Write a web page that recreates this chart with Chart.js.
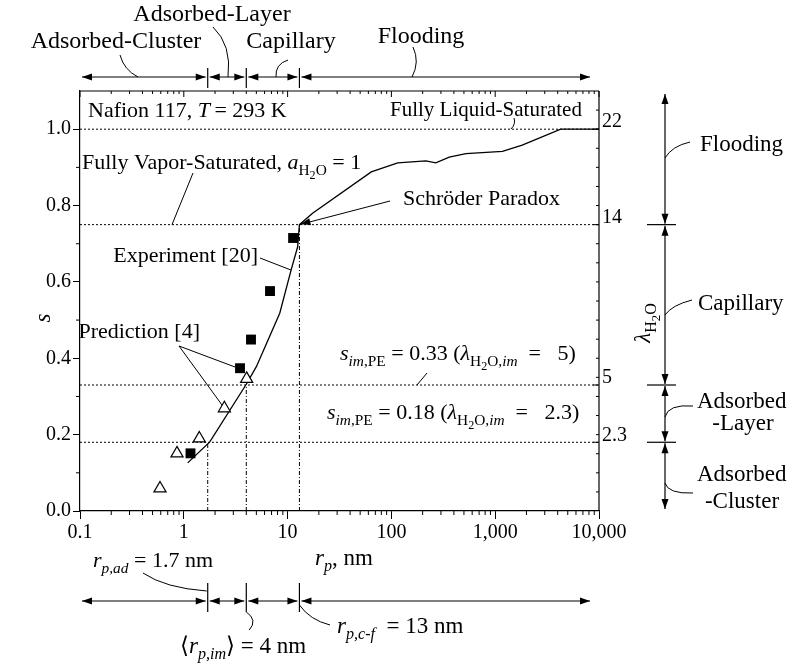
<!DOCTYPE html>
<html>
<head>
<meta charset="utf-8">
<script src="https://cdn.jsdelivr.net/npm/chart.js@4/dist/chart.umd.min.js"></script>
<style>
  html, body { margin: 0; padding: 0; background: #fff; }
  #wrap { width: 794px; height: 665px; }
</style>
</head>
<body>
<div id="wrap"><canvas id="chart" width="794" height="665"></canvas></div>
<script>
// pore radius (nm) vs. saturation s, Nafion 117 at 293 K
const rCurve = [1.09, 1.78, 4.0, 5.0, 8.4, 10.8, 12.5, 13, 17.4, 64, 115, 215, 268, 361, 523, 1175, 1820, 4280, 10000];
const sCurve = [0.126, 0.181, 0.332, 0.378, 0.518, 0.631, 0.692, 0.75, 0.78, 0.888, 0.912, 0.917, 0.912, 0.927, 0.936, 0.942, 0.958, 1.0, 1.0];

// experiment [20]
const rExp = [1.16, 3.48, 4.44, 6.77, 11.3];
const sExp = [0.151, 0.374, 0.449, 0.576, 0.715];

// prediction [4]
const rPred = [0.59, 0.86, 1.41, 2.46, 4.03];
const sPred = [0.059, 0.151, 0.19, 0.269, 0.346];

// horizontal reference levels and the matching lambda values
const sLevels = [1.0, 0.75, 0.33, 0.18];
const lambdaLabels = ['22', '14', '5', '2.3'];

// regime boundaries r_p,ad, <r_p,im>, r_p,c-f (nm) and where their drop lines stop
const rBounds = [1.7, 4, 13];
const sBoundTop = [0.18, 0.33, 0.75];

const decades = [0.1, 1, 10, 100, 1000, 10000];
const decadeLabels = ['0.1', '1', '10', '100', '1,000', '10,000'];
const sTicks = [0, 0.2, 0.4, 0.6, 0.8, 1.0];

const FONT = '"Liberation Serif", "Times New Roman", "DejaVu Serif", serif';
const TOP = 24, IN = 22, SIDE = 23;

function pts(xs, ys) {
    return xs.map((v, i) => ({ x: v, y: ys[i] }));
}

// text with italic parts and sub / sub-sub scripts: [text, flags]
function drawRich(ctx, segs, x, y, size, align) {
    const parts = segs.map(s => {
        const f = s[1] || '';
        const lvl = f.includes('2') ? 2 : (f.includes('1') ? 1 : 0);
        const sz = size * [1, 0.7, 0.55][lvl];
        const font = (f.includes('i') ? 'italic ' : '') + sz.toFixed(1) + 'px ' + FONT;
        ctx.font = font;
        return { t: s[0], font, w: ctx.measureText(s[0]).width, dy: [0, 0.28, 0.45][lvl] * size };
    });
    const total = parts.reduce((a, p) => a + p.w, 0);
    let cx = align === 'center' ? x - total / 2 : (align === 'right' ? x - total : x);
    const base = y + 0.33 * size;
    ctx.textBaseline = 'alphabetic';
    ctx.textAlign = 'left';
    parts.forEach(p => {
        ctx.font = p.font;
        ctx.fillText(p.t, cx, base + p.dy);
        cx += p.w;
    });
}

function line(ctx, x1, y1, x2, y2) {
    ctx.beginPath(); ctx.moveTo(x1, y1); ctx.lineTo(x2, y2); ctx.stroke();
}

function curve(ctx, x1, y1, cx, cy, x2, y2) {
    ctx.beginPath(); ctx.moveTo(x1, y1); ctx.quadraticCurveTo(cx, cy, x2, y2); ctx.stroke();
}

function head(ctx, x, y, ang) {
    const L = 10, W = 3.5;
    const c = Math.cos(ang), s = Math.sin(ang);
    ctx.beginPath();
    ctx.moveTo(x, y);
    ctx.lineTo(x - L * c + W * s, y - L * s - W * c);
    ctx.lineTo(x - L * c - W * s, y - L * s + W * c);
    ctx.closePath();
    ctx.fill();
}

function dblArrow(ctx, x1, y1, x2, y2) {
    line(ctx, x1, y1, x2, y2);
    const ang = Math.atan2(y2 - y1, x2 - x1);
    head(ctx, x2, y2, ang);
    head(ctx, x1, y1, ang + Math.PI);
}

// frame, minor ticks, regime arrows and all the labels
const annotations = {
    id: 'annotations',
    afterDraw(chart) {
        const { ctx, chartArea: a, scales } = chart;
        const px = v => scales.x.getPixelForValue(v);
        const py = v => scales.y.getPixelForValue(v);
        ctx.save();
        ctx.strokeStyle = '#000';
        ctx.fillStyle = '#000';
        ctx.lineWidth = 1.2;

        // top and right frame
        line(ctx, a.left, a.top, a.right, a.top);
        line(ctx, a.right, a.top, a.right, a.bottom);

        // log minor ticks (bottom outward, top inward)
        ctx.lineWidth = 1;
        decades.slice(0, -1).forEach(d => {
            for (let k = 2; k < 10; k++) {
                const xp = px(d * k);
                line(ctx, xp, a.bottom, xp, a.bottom + 4);
                line(ctx, xp, a.top, xp, a.top + 3);
            }
        });
        decades.forEach(d => line(ctx, px(d), a.top, px(d), a.top + 6));
        [0.1, 0.3, 0.5, 0.7, 0.9].forEach(v => line(ctx, a.left - 4, py(v), a.left, py(v)));
        for (let v = 0.05; v < 1.1; v += 0.05) {
            line(ctx, a.right - 3, py(v), a.right, py(v));
        }
        sLevels.forEach(v => line(ctx, a.right - 6, py(v), a.right, py(v)));

        // regime arrows above and below the plot
        const bx = rBounds.map(px);
        [[77, 68, 88], [601, 583, 612]].forEach(([yy, b0, b1]) => {
            ctx.lineWidth = 1.2;
            bx.forEach(v => line(ctx, v, b0, v, b1));
            dblArrow(ctx, a.left + 2, yy, bx[0] - 2, yy);
            dblArrow(ctx, bx[0] + 2, yy, bx[1] - 2, yy);
            dblArrow(ctx, bx[1] + 2, yy, bx[2] - 2, yy);
            dblArrow(ctx, bx[2] + 2, yy, 590, yy);
        });

        // lambda regime arrows on the right
        const xr = 665;
        const ys = [a.top + 2, py(sLevels[1]), py(sLevels[2]), py(sLevels[3]), a.bottom - 1];
        for (let i = 0; i < ys.length - 1; i++) {
            dblArrow(ctx, xr, ys[i] + 1, xr, ys[i + 1] - 1);
        }
        ys.slice(1, -1).forEach(v => line(ctx, 647, v, 676, v));

        // leader lines
        ctx.lineWidth = 1;
        curve(ctx, 120, 55, 124, 70, 138, 77);
        curve(ctx, 213, 27, 232, 45, 228, 77);
        curve(ctx, 288, 60, 275, 64, 276, 77);
        curve(ctx, 413, 47, 420, 62, 412, 77);
        curve(ctx, 514, 118, 516, 124, 511, 129);
        line(ctx, 193, 173, 172, py(sLevels[1]));
        line(ctx, 260, 258, px(10.8), py(0.631));
        line(ctx, 179, 346, 235, 367);
        line(ctx, 179, 346, 222, 405);
        line(ctx, 417, py(sLevels[2]), 427, 373);
        const sx = px(13), sy = py(sLevels[1]);
        line(ctx, 390, 201, sx, sy);
        head(ctx, sx + 1, sy - 0.5, Math.atan2(sy - 201, sx - 390));
        curve(ctx, 690, 142, 672, 146, xr, 158);
        curve(ctx, 692, 300, 672, 305, xr, 315);
        curve(ctx, 693, 406, 668, 404, xr, 417);
        curve(ctx, 693, 493, 668, 494, xr, 483);
        curve(ctx, 143, 573, 165, 588, bx[0] - 1, 591);
        curve(ctx, bx[1], 612, 258, 620, bx[1] + 3, 630);
        curve(ctx, bx[2], 605, 310, 620, 330, 625);

        // labels above the plot
        drawRich(ctx, [['Adsorbed-Cluster']], 116, 40, TOP, 'center');
        drawRich(ctx, [['Adsorbed-Layer']], 212, 13, TOP, 'center');
        drawRich(ctx, [['Capillary']], 291, 40, TOP, 'center');
        drawRich(ctx, [['Flooding']], 421, 35, TOP, 'center');

        // labels inside the plot
        drawRich(ctx, [['Nafion 117, '], ['T', 'i'], ['\u2009= 293 K']], 88, 110, IN, 'left');
        drawRich(ctx, [['Fully Liquid-Saturated']], 390, 109, 21, 'left');
        drawRich(ctx, [['Fully Vapor-Saturated, '], ['a', 'i'], ['H', '1'], ['2', '2'], ['O', '1'], [' = 1']], 82, 162, IN, 'left');
        drawRich(ctx, [['Schröder Paradox']], 403, 198, IN, 'left');
        drawRich(ctx, [['Experiment [20]']], 258, 255, IN, 'right');
        drawRich(ctx, [['Prediction [4]']], 200, 331, IN, 'right');
        drawRich(ctx, [['s', 'i'], ['im', 'i1'], [',PE', '1'], [' = 0.33 ('], ['λ', 'i'], ['H', '1'], ['2', '2'], ['O,', '1'], ['im', 'i1'], ['\u2002=\u2002 5)']], 340, 353, IN, 'left');
        drawRich(ctx, [['s', 'i'], ['im', 'i1'], [',PE', '1'], [' = 0.18 ('], ['λ', 'i'], ['H', '1'], ['2', '2'], ['O,', '1'], ['im', 'i1'], ['\u2002=\u2002 2.3)']], 327, 412, IN, 'left');

        // labels below the plot
        drawRich(ctx, [['r', 'i'], ['p', 'i1'], [', nm']], 315, 557, SIDE, 'left');
        drawRich(ctx, [['r', 'i'], ['p,ad', 'i1'], [' = 1.7 nm']], 93, 560, IN, 'left');
        drawRich(ctx, [['\u27E8'], ['r', 'i'], ['p,im', 'i1'], ['\u27E9 = 4 nm']], 180, 645, SIDE, 'left');
        drawRich(ctx, [['r', 'i'], ['p,c-f', 'i1'], ['\u2002= 13 nm']], 337, 625, SIDE, 'left');

        // labels on the right
        drawRich(ctx, [['Flooding']], 700, 143, SIDE, 'left');
        drawRich(ctx, [['Capillary']], 698, 302, SIDE, 'left');
        drawRich(ctx, [['Adsorbed']], 697, 400, SIDE, 'left');
        drawRich(ctx, [['-Layer']], 743, 422, SIDE, 'center');
        drawRich(ctx, [['Adsorbed']], 697, 473, SIDE, 'left');
        drawRich(ctx, [['-Cluster']], 742, 500, SIDE, 'center');

        // rotated axis titles
        ctx.save();
        ctx.translate(642, 323);
        ctx.rotate(-Math.PI / 2);
        drawRich(ctx, [['λ', 'i'], ['H', '1'], ['2', '2'], ['O', '1']], 0, 0, SIDE, 'center');
        ctx.restore();
        ctx.save();
        ctx.translate(42, 318);
        ctx.rotate(-Math.PI / 2);
        drawRich(ctx, [['s', 'i']], 0, 0, SIDE, 'center');
        ctx.restore();

        ctx.restore();
    }
};

const datasets = [
    {
        label: 'Experiment [20]',
        data: pts(rExp, sExp),
        showLine: false,
        pointStyle: 'rect',
        pointRadius: 7,
        backgroundColor: '#000',
        borderColor: '#000',
        borderWidth: 0
    },
    {
        label: 'Prediction [4]',
        data: pts(rPred, sPred),
        showLine: false,
        pointStyle: 'triangle',
        pointRadius: 7,
        backgroundColor: '#fff',
        borderColor: '#000',
        borderWidth: 1.2
    },
    {
        label: 'curve',
        data: pts(rCurve, sCurve),
        showLine: true,
        pointRadius: 0,
        borderColor: '#000',
        borderWidth: 1.3,
        tension: 0
    }
];

// dotted saturation levels across the full range
sLevels.forEach(v => {
    datasets.push({
        data: [{ x: decades[0], y: v }, { x: decades[decades.length - 1], y: v }],
        showLine: true,
        pointRadius: 0,
        borderColor: '#000',
        borderWidth: 1,
        borderDash: [2, 2]
    });
});

// drop lines at the regime boundaries
rBounds.forEach((r, i) => {
    datasets.push({
        data: [{ x: r, y: 0 }, { x: r, y: sBoundTop[i] }],
        showLine: true,
        pointRadius: 0,
        borderColor: '#000',
        borderWidth: 1,
        borderDash: [4, 2, 1, 2]
    });
});

const tickFont = { family: FONT, size: 20 };

new Chart(document.getElementById('chart').getContext('2d'), {
    type: 'scatter',
    data: { datasets },
    options: {
        responsive: false,
        animation: false,
        devicePixelRatio: 1,
        layout: { padding: { top: 91, left: 0, right: 0, bottom: 0 } },
        plugins: { legend: { display: false }, tooltip: { enabled: false } },
        scales: {
            x: {
                type: 'logarithmic',
                position: 'bottom',
                min: 0.1,
                max: 10000,
                afterBuildTicks: s => { s.ticks = decades.map(v => ({ value: v })); },
                afterFit: s => { s.height = 154; },
                ticks: {
                    autoSkip: false,
                    maxRotation: 0,
                    padding: 2,
                    color: '#000',
                    font: tickFont,
                    callback: v => {
                        const i = decades.findIndex(d => Math.abs(d - v) < d * 1e-6);
                        return i >= 0 ? decadeLabels[i] : '';
                    }
                },
                grid: { drawOnChartArea: false, tickLength: 8, color: '#000', tickColor: '#000' },
                border: { color: '#000', width: 1.2 }
            },
            y: {
                type: 'linear',
                position: 'left',
                min: 0,
                max: 1.1,
                afterBuildTicks: s => { s.ticks = sTicks.map(v => ({ value: v })); },
                afterFit: s => { s.width = 80; },
                ticks: { color: '#000', font: tickFont, padding: 2, callback: v => v.toFixed(1) },
                grid: { drawOnChartArea: false, tickLength: 7, color: '#000', tickColor: '#000' },
                border: { color: '#000', width: 1.2 }
            },
            y2: {
                type: 'linear',
                position: 'right',
                min: 0,
                max: 1.1,
                afterBuildTicks: s => { s.ticks = sLevels.map(v => ({ value: v })); },
                afterFit: s => { s.width = 195; },
                ticks: {
                    color: '#000',
                    font: tickFont,
                    padding: 3,
                    labelOffset: -7,
                    callback: v => {
                        const i = sLevels.findIndex(l => Math.abs(l - v) < 1e-6);
                        return i >= 0 ? lambdaLabels[i] : '';
                    }
                },
                grid: { drawOnChartArea: false, drawTicks: false },
                border: { display: false }
            }
        }
    },
    plugins: [annotations]
});
</script>
</body>
</html>
